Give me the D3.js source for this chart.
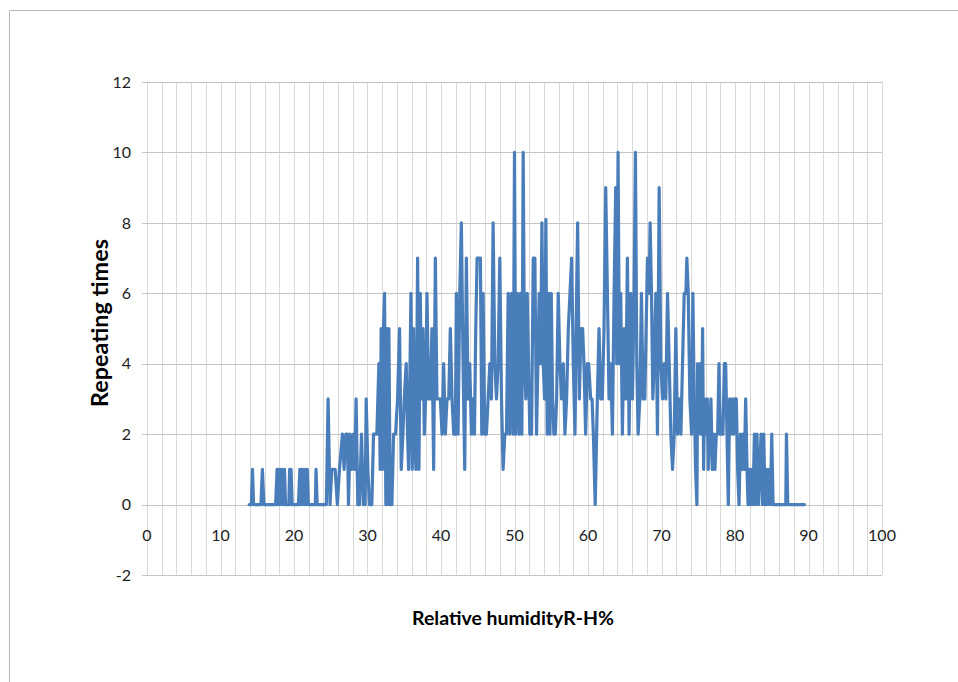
<!DOCTYPE html>
<html>
<head>
<meta charset="utf-8">
<script src="https://cdn.jsdelivr.net/npm/d3@7"></script>
<style>
  html, body { margin: 0; padding: 0; background: #fff; }
  svg { display: block; }
</style>
</head>
<body>
<svg id="chart" width="958" height="682"></svg>
<script>
// ---- data ----
const humidity = [
  13.9,14.2,14.35,14.5,15.5,15.7,15.9,17.5,17.7,17.8,17.9,18.05,18.2,18.3,18.4,18.55,18.7,18.85,
  19.3,19.4,19.5,19.6,19.75,20.6,20.8,20.9,21.0,21.15,21.3,21.45,21.6,21.7,21.8,21.95,22.9,23.0,23.15,
  24.4,24.64,24.9,25.14,25.6,25.9,26.18,26.59,26.82,27.05,27.27,27.41,27.64,27.86,28.09,28.27,28.45,
  28.68,28.91,29.18,29.45,29.68,29.82,30.05,30.27,30.59,30.82,31.27,31.55,31.73,31.86,32.05,32.18,
  32.32,32.5,32.64,32.77,32.91,33.09,33.32,33.55,33.82,34.09,34.36,34.59,34.82,35.0,35.27,35.45,
  35.59,35.73,35.91,36.09,36.27,36.41,36.59,36.82,37.0,37.18,37.36,37.55,37.73,37.91,38.09,38.32,
  38.55,38.77,39.0,39.23,39.45,39.68,39.91,40.14,40.36,40.59,40.82,41.05,41.27,41.5,41.73,41.95,
  42.09,42.32,42.55,42.77,43.0,43.23,43.45,43.68,43.91,44.14,44.36,44.55,44.73,44.91,45.18,45.36,
  45.55,45.73,45.95,46.18,46.41,46.64,46.86,47.09,47.32,47.55,47.77,48.0,48.23,48.45,48.68,48.91,
  49.14,49.36,49.59,49.82,50.0,50.18,50.41,50.64,50.82,51.0,51.18,51.36,51.55,51.73,51.91,52.09,
  52.32,52.55,52.77,53.0,53.18,53.36,53.55,53.73,53.91,54.09,54.27,54.45,54.64,54.82,55.0,55.18,
  55.36,55.55,55.73,55.95,56.18,56.41,56.64,56.86,57.09,57.32,57.55,57.77,58.0,58.23,58.45,58.59,
  58.82,59.05,59.27,59.45,59.68,59.91,60.09,60.36,60.55,60.73,60.98,61.27,61.5,61.73,61.95,62.18,
  62.41,62.64,62.86,63.09,63.32,63.55,63.77,63.91,64.09,64.27,64.45,64.68,64.91,65.14,65.36,65.59,
  65.82,66.05,66.27,66.45,66.64,66.82,67.05,67.27,67.5,67.73,67.91,68.09,68.32,68.45,68.64,68.82,
  69.0,69.23,69.45,69.68,69.91,70.14,70.36,70.59,70.82,71.05,71.27,71.5,71.73,71.95,72.18,72.41,
  72.64,72.86,73.09,73.32,73.45,73.64,73.86,74.09,74.27,74.45,74.64,74.82,74.91,75.09,75.27,75.45,
  75.59,75.73,75.86,76.05,76.23,76.36,76.55,76.73,76.91,77.09,77.27,77.45,77.64,77.82,78.0,78.18,
  78.36,78.55,78.73,78.91,79.09,79.27,79.45,79.64,79.82,80.0,80.18,80.36,80.55,80.73,80.91,81.09,
  81.27,81.45,81.64,81.77,81.95,82.09,82.27,82.45,82.64,82.82,83.0,83.18,83.36,83.55,83.73,83.91,
  84.09,84.27,84.45,84.64,84.82,85.0,85.18,86.91,87.0,87.18,89.45
];
const repeatingTimes = [
  0,0,1,0,0,1,0,0,1,0,1,0,1,0,1,0,1,0,
  0,1,0,1,0,0,1,0,1,0,1,0,1,0,1,0,0,1,0,
  0,3,0,1,1,0,1,2,1,2,2,0,2,1,2,1,3,
  0,0,2,0,0,3,1,0,0,2,2,4,1,5,1,5,
  6,0,5,0,5,0,0,2,2,3,5,1,2,3,4,2,
  1,3,6,1,5,2,1,7,1,6,3,5,2,3,6,3,
  3,5,1,7,3,3,3,2,4,2,3,3,5,3,2,2,
  6,2,6,8,4,1,7,3,4,2,3,2,5,7,7,7,
  2,6,2,2,3,4,3,8,4,3,4,7,3,1,2,2,
  6,2,6,2,10,2,6,2,6,2,10,4,3,6,4,2,
  2,7,7,2,4,6,4,8,4,3,8.1,2,6,2,6,3,
  2,2,3,6,4,3,4,2,3,5,6,7,4,2,6,8,
  3,5,5,4,2,4,4,3,3,2,0,3,5,3,3,5,
  9,6,3,4,2,6,9,4,10,4,6,2,5,3,7,2,
  6,3,6,10,4,2,3,6,3,3,5,7,6,8,6,3,
  4,6,2,9,4,3,4,3,6,4,2,1,2,5,2,3,
  2,4,6,6,7,6,3,2,6,3,1,0,4,2,4,2,
  5,1,3,2,3,1,2,3,1,2,1,2,2,4,2,2,
  2,4,4,2,0,3,2,3,2,3,3,1,0,2,1,2,
  1,3,1,0,1,0,1,0,2,0,2,0,1,2,0,2,
  0,1,0,1,0,2,0,0,2,0,0
];
const xTickLabels = [0, 10, 20, 30, 40, 50, 60, 70, 80, 90, 100];
const yTickLabels = [-2, 0, 2, 4, 6, 8, 10, 12];
const xGridStep = 2;
const xTitle = "Relative humidityR-H%";
const yTitle = "Repeating times";

// ---- layout ----
const svg = d3.select("#chart");
const plot = { left: 147, right: 882, top: 82, bottom: 575 };

const x = d3.scaleLinear().domain([0, 100]).range([plot.left, plot.right]);
const y = d3.scaleLinear().domain([-2, 12]).range([plot.bottom, plot.top]);

// chart area frame (top & left edges visible)
svg.append("line").attr("x1", 9.5).attr("x2", 958).attr("y1", 10.5).attr("y2", 10.5)
  .attr("stroke", "#b8b8b8").attr("stroke-width", 1);
svg.append("line").attr("x1", 9.5).attr("x2", 9.5).attr("y1", 10.5).attr("y2", 682)
  .attr("stroke", "#b8b8b8").attr("stroke-width", 1);

// vertical gridlines (every 2 units)
const xGrid = d3.range(0, 100 + xGridStep / 2, xGridStep);
svg.append("g").selectAll("line").data(xGrid).join("line")
  .attr("x1", d => Math.round(x(d)) + 0.5).attr("x2", d => Math.round(x(d)) + 0.5)
  .attr("y1", plot.top).attr("y2", plot.bottom)
  .attr("stroke", "#d9d9d9").attr("stroke-width", 1);

// horizontal gridlines with small outside tick
svg.append("g").selectAll("line").data(yTickLabels).join("line")
  .attr("x1", plot.left - 5).attr("x2", plot.right)
  .attr("y1", d => Math.round(y(d)) + 0.5).attr("y2", d => Math.round(y(d)) + 0.5)
  .attr("stroke", "#c4c4c4").attr("stroke-width", 1);

// tick labels
const tickFont = "Lato, 'Open Sans', sans-serif";
svg.append("g").selectAll("text").data(yTickLabels).join("text")
  .attr("x", plot.left - 16).attr("y", d => y(d))
  .attr("dy", "0.36em").attr("text-anchor", "end")
  .attr("font-family", tickFont).attr("font-size", 16).attr("fill", "#222")
  .text(d => d);

svg.append("g").selectAll("text").data(xTickLabels).join("text")
  .attr("x", d => x(d)).attr("y", y(0) + 31)
  .attr("dy", "0.36em").attr("text-anchor", "middle")
  .attr("font-family", tickFont).attr("font-size", 16).attr("fill", "#222")
  .text(d => d);

// data line
const pts = humidity.map((h, i) => [h, repeatingTimes[i]]);
svg.append("path").datum(pts)
  .attr("fill", "none").attr("stroke", "#4a7ebb").attr("stroke-width", 3.2)
  .attr("stroke-linejoin", "round").attr("stroke-linecap", "round")
  .attr("d", d3.line().x(d => x(d[0])).y(d => y(d[1])));

// axis titles
function fit(sel, target) {
  const w = sel.node().getComputedTextLength();
  const fs = parseFloat(sel.attr("font-size"));
  sel.attr("font-size", fs * target / w);
}
const xt = svg.append("text").attr("x", 513).attr("y", 625)
  .attr("text-anchor", "middle").attr("font-family", tickFont)
  .attr("font-weight", "bold").attr("font-size", 18).attr("fill", "#000")
  .text(xTitle);
fit(xt, 202);

const yt = svg.append("text")
  .attr("transform", "translate(108,323) rotate(-90)")
  .attr("text-anchor", "middle").attr("font-family", tickFont)
  .attr("font-weight", "bold").attr("font-size", 18).attr("fill", "#000")
  .text(yTitle);
fit(yt, 168);
</script>
</body>
</html>
